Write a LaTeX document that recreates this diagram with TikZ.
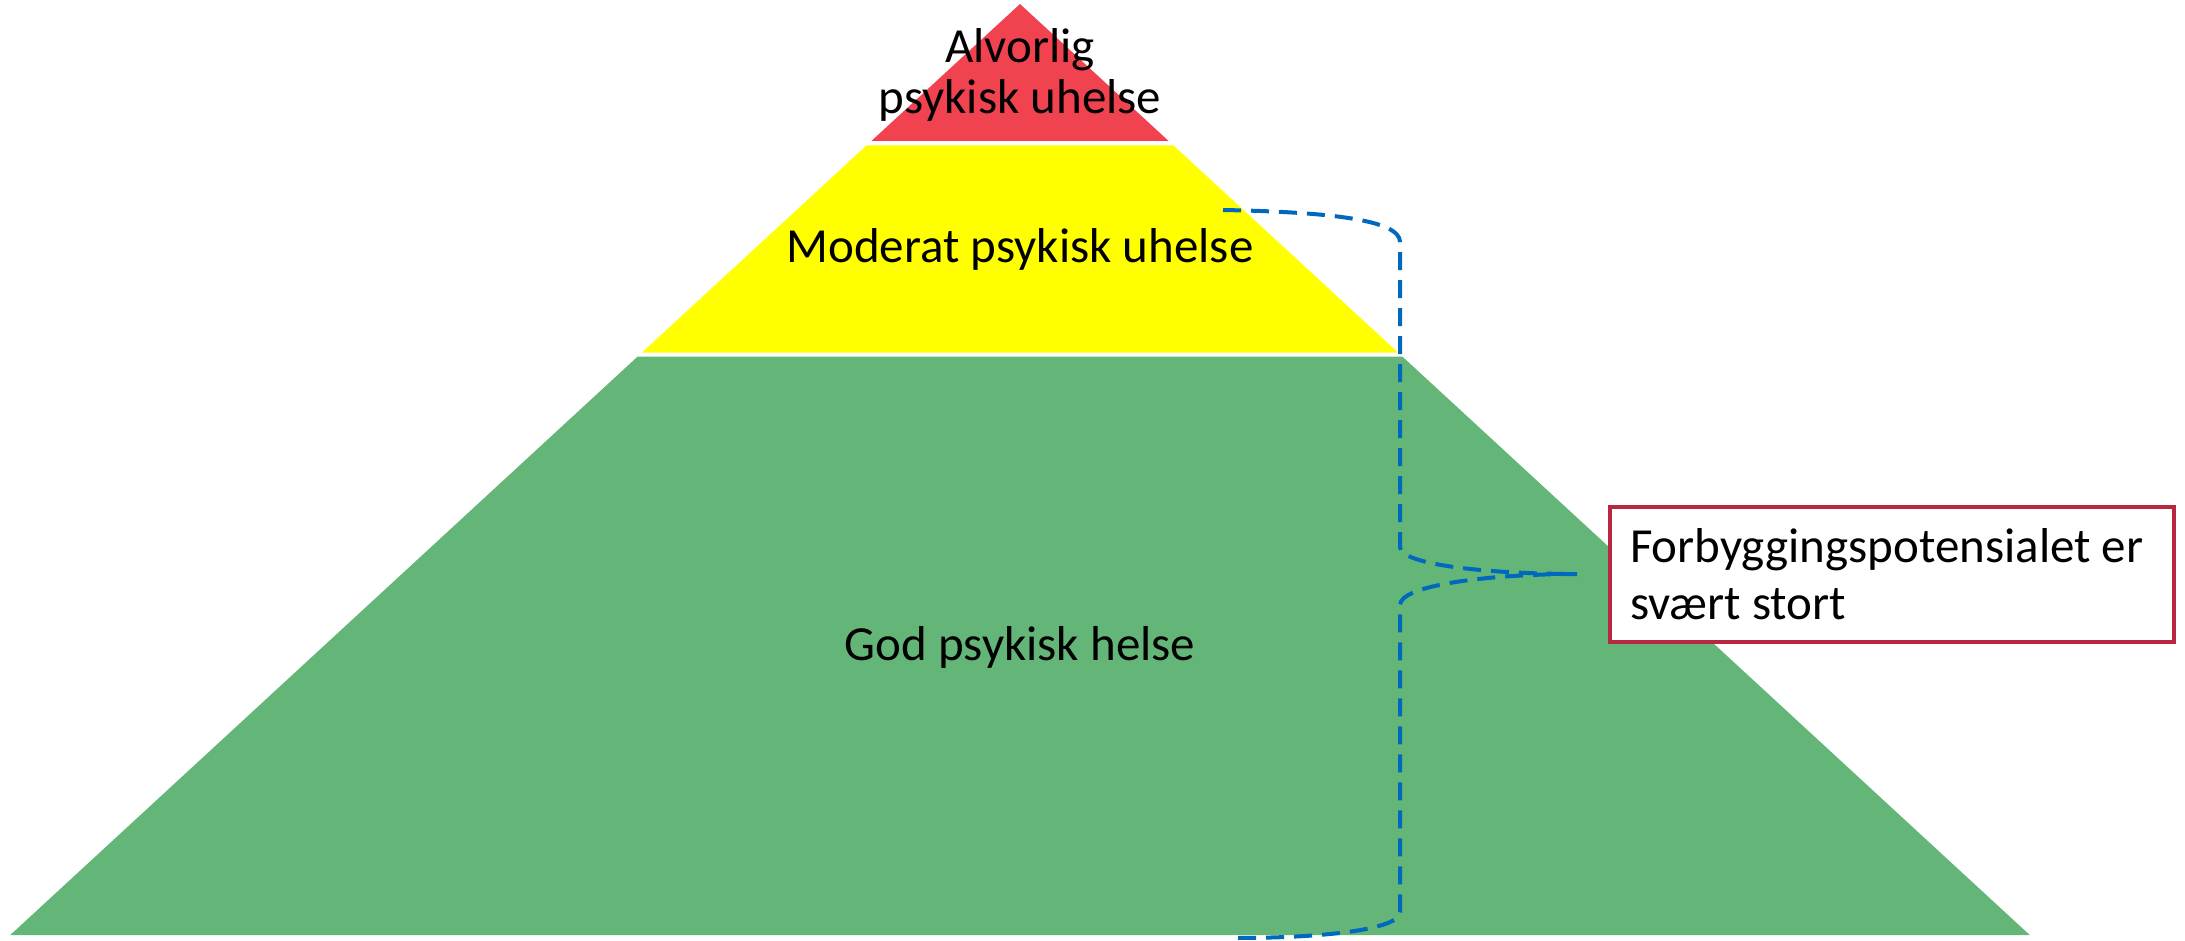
\documentclass[tikz,border=0pt]{standalone}
\usepackage{fontspec}
\setmainfont{Carlito}
\definecolor{sevred}{HTML}{F0434F}
\definecolor{modyel}{HTML}{FFFF00}
\definecolor{goodgreen}{HTML}{63B677}
\definecolor{braceblue}{HTML}{0068BD}
\definecolor{boxred}{HTML}{B5283F}
\begin{document}
\begin{tikzpicture}[x=1pt,y=-1pt,
  lbl/.style={font=\fontsize{49}{51}\selectfont, inner sep=0pt, align=center},
  note/.style={draw=boxred, line width=3.5pt, fill=white,
    font=\fontsize{49}{57}\selectfont, text width=524pt, align=flush left,
    inner xsep=20pt, inner ysep=0pt, minimum width=564pt, minimum height=135pt},
  bracket/.style={draw=braceblue, line width=4pt, dash pattern=on 18pt off 10pt}]
\useasboundingbox (0,0) rectangle (2185,941);
% pyramid bands
\fill[sevred] (1020,4) -- (1168.6,141) -- (871.4,141) -- cycle;
\fill[modyel] (866.5,145.5) -- (1173.5,145.5) -- (1398.2,352.7) -- (641.8,352.7) -- cycle;
\fill[goodgreen] (637.5,356.7) -- (1402.5,356.7) -- (2029.7,935) -- (10.3,935) -- cycle;
% labels
\node[lbl] (severe) at (1020,75) {Alvorlig\\psykisk uhelse};
\node[lbl, anchor=base] (moderate) at (1020,263) {Moderat psykisk uhelse};
\node[lbl, anchor=base] (good) at (1020,660) {God psykisk helse};
% bracket
\coordinate (btop) at (1223,210);
\coordinate (btip) at (1577,574);
\coordinate (bbot) at (1235,938);
\draw[bracket] (btop) .. controls (1330,212) and (1400,220) .. (1400,242)
  -- (1400,547) .. controls (1400,565) and (1490,574) .. (btip)
  .. controls (1490,574) and (1400,585) .. (1400,605)
  -- (1400,912) .. controls (1400,930) and (1320,938) .. (bbot);
% note box
\node[note] (potential) at (1892,574.5) {Forbyggingspotensialet er\\svært stort};
\end{tikzpicture}
\end{document}
